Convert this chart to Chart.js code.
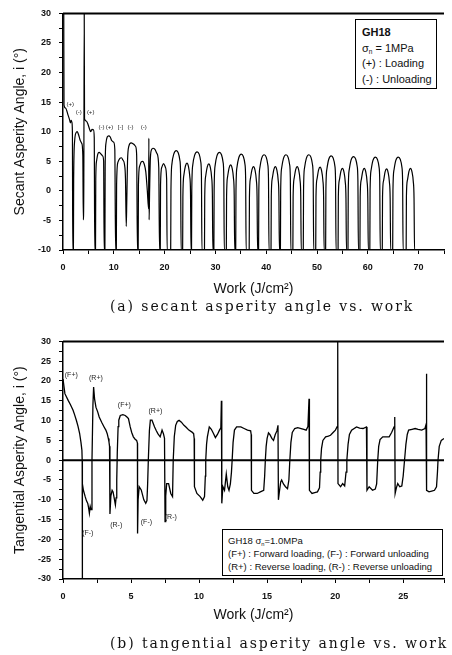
<!DOCTYPE html>
<html>
<head>
<meta charset="utf-8">
<script src="https://cdn.jsdelivr.net/npm/chart.js@4.4.1/dist/chart.umd.min.js"></script>
<style>
  html, body { margin: 0; padding: 0; background: #fff; }
  #page { position: relative; width: 452px; height: 655px; overflow: hidden; background: #fff; }
  .box { position: absolute; left: 0; width: 452px; height: 300px; }
  .cap { position: absolute; font: 14px "DejaVu Serif", serif; letter-spacing: 1.9px; color: #111; white-space: nowrap; }
  .key { position: absolute; border: 1px solid #000; background: #fff; color: #111;
         font-family: "Liberation Sans", Arial, sans-serif; white-space: nowrap; box-sizing: border-box; }
  .key sub { font-size: 60%; vertical-align: -2px; line-height: 0; }
</style>
</head>
<body>
<div id="page">
  <div class="box" style="top:0"><canvas id="secant"></canvas></div>
  <div class="cap" style="left:110px;top:298px">(a) secant asperity angle vs. work</div>
  <div class="key" style="left:355px;top:19px;width:82px;height:70px;padding:5px 0 0 6px;font-size:11px;line-height:15.5px">
    <b>GH18</b><br>σ<sub>n</sub> = 1MPa<br>(+) : Loading<br>(-) : Unloading
  </div>

  <div class="box" style="top:328px"><canvas id="tangential"></canvas></div>
  <div class="cap" style="left:110px;top:635px">(b) tangential asperity angle vs. work</div>
  <div class="key" style="left:222px;top:529px;width:221px;height:47px;padding:4px 0 0 5px;font-size:9.5px;line-height:13px">
    GH18 σ<sub>n</sub>=1.0MPa<br>(F+) : Forward loading, (F-) : Forward unloading<br>(R+) : Reverse loading, (R-) : Reverse unloading
  </div>
</div>

<script>
// secant asperity angle (deg) against work (J/cm2): [work, angle]
const secantCurve = [
  [0.15, 30], [0.2, 14.5], [0.5, 14.0], [1.0, 12.8], [1.3, 12.0], [1.45, 11.5], [1.6, 11.9], [1.75, 11.6], [1.85, 10], [1.92, -10],
  [2.05, -10], [2.1, 2], [2.3, 8.5], [2.55, 9.8], [2.8, 10.0], [3.1, 9.4], [3.4, 8.5], [3.7, 8.0], [3.9, 6], [4.0, -4.9],
  [4.1, 2], [4.18, 30], [4.24, 12.2], [4.6, 11.8], [4.9, 11.3], [5.2, 10.5], [5.45, 10.0], [5.7, 10.4], [6.0, 10.3], [6.15, 9], [6.25, -10],
  [6.4, -10], [6.45, 2], [6.6, 5.0], [6.85, 6.2], [7.1, 6.5], [7.5, 6.2], [7.8, 5.9], [8.0, 5], [8.1, -10],
  [8.25, -10], [8.3, 4], [8.45, 8.0], [8.7, 9.1], [9.0, 9.3], [9.3, 9.1], [9.6, 8.5], [10.0, 8.2], [10.2, 7], [10.35, -10],
  [10.5, -10], [10.55, 1], [10.8, 4.8], [11.2, 5.5], [11.5, 5.6], [11.8, 5.2], [12.1, 4.5], [12.3, 2], [12.45, -6.0],
  [12.55, -2], [12.7, 5], [12.95, 7.5], [13.4, 8.1], [13.9, 7.9], [14.3, 7.5], [14.5, 6], [14.65, -10],
  [14.8, -10], [14.85, 1], [15.1, 4.2], [15.4, 4.9], [15.7, 5.0], [16.0, 4.5], [16.3, 3.2], [16.6, 0], [16.85, -3], [16.9, 8.9], [16.95, -4.9],
  [17.05, 0], [17.2, 5.5], [17.45, 7.0], [17.7, 7.2], [18.1, 7.0], [18.5, 6.3], [18.85, 4], [19.0, -10],
  [19.15, -10], [19.2, 1], [19.45, 4.0], [19.8, 4.6], [20.15, 4.0], [20.4, 2], [20.5, -10],
  [21.2, -10], [21.25, 0], [21.45, 4.6], [21.8, 6.2], [22.3, 6.8], [22.7, 6.4], [23.0, 5.2], [23.15, 2.8], [23.25, -10],
  [23.55, -10], [23.6, -1], [23.8, 2.7], [24.1, 4.2], [24.4, 4.7], [24.7, 4.1], [24.95, 2.5], [25.1, -0.3], [25.2, -10],
  [25.3, -10], [25.35, 0], [25.55, 4.4], [25.9, 6.0], [26.4, 6.6], [26.8, 6.2], [27.1, 5.0], [27.25, 2.6], [27.35, -10],
  [27.85, -10], [27.9, -1], [28.1, 2.55], [28.4, 4.05], [28.7, 4.55], [29.0, 3.95], [29.25, 2.35], [29.4, -0.45], [29.5, -10],
  [29.7, -10], [29.75, 0], [29.95, 4.3], [30.3, 5.9], [30.8, 6.5], [31.2, 6.1], [31.5, 4.9], [31.65, 2.5], [31.75, -10],
  [32.15, -10], [32.2, -1], [32.4, 2.4], [32.7, 3.9], [33.0, 4.4], [33.3, 3.8], [33.55, 2.2], [33.7, -0.6], [33.8, -10],
  [34.0, -10], [34.05, 0], [34.25, 4.0], [34.6, 5.6], [35.1, 6.2], [35.5, 5.8], [35.8, 4.6], [35.95, 2.2], [36.05, -10],
  [36.65, -10], [36.7, -1], [36.9, 2.1], [37.2, 3.6], [37.5, 4.1], [37.8, 3.5], [38.05, 1.9], [38.2, -0.9], [38.3, -10],
  [38.5, -10], [38.55, 0], [38.75, 3.9], [39.1, 5.5], [39.6, 6.1], [40.0, 5.7], [40.3, 4.5], [40.45, 2.1], [40.55, -10],
  [40.95, -10], [41.0, -1], [41.2, 2.1], [41.5, 3.6], [41.8, 4.1], [42.1, 3.5], [42.35, 1.9], [42.5, -0.9], [42.6, -10],
  [42.8, -10], [42.85, 0], [43.05, 3.9], [43.4, 5.5], [43.9, 6.1], [44.3, 5.7], [44.6, 4.5], [44.75, 2.1], [44.85, -10],
  [45.25, -10], [45.3, -1], [45.5, 2.1], [45.8, 3.6], [46.1, 4.1], [46.4, 3.5], [46.65, 1.9], [46.8, -0.9], [46.9, -10],
  [47.3, -10], [47.35, 0], [47.55, 3.9], [47.9, 5.5], [48.4, 6.1], [48.8, 5.7], [49.1, 4.5], [49.25, 2.1], [49.35, -10],
  [49.75, -10], [49.8, -1], [50.0, 2.0], [50.3, 3.5], [50.6, 4.0], [50.9, 3.4], [51.15, 1.8], [51.3, -1.0], [51.4, -10],
  [51.7, -10], [51.75, 0], [51.95, 3.7], [52.3, 5.3], [52.8, 5.9], [53.2, 5.5], [53.5, 4.3], [53.65, 1.9], [53.75, -10],
  [54.15, -10], [54.2, -1], [54.4, 1.8], [54.7, 3.3], [55.0, 3.8], [55.3, 3.2], [55.55, 1.6], [55.7, -1.2], [55.8, -10],
  [56.1, -10], [56.15, 0], [56.35, 3.6], [56.7, 5.2], [57.2, 5.8], [57.6, 5.4], [57.9, 4.2], [58.05, 1.8], [58.15, -10],
  [58.45, -10], [58.5, -1], [58.7, 1.8], [59.0, 3.3], [59.3, 3.8], [59.6, 3.2], [59.85, 1.6], [60.0, -1.2], [60.1, -10],
  [60.4, -10], [60.45, 0], [60.65, 3.5], [61.0, 5.1], [61.5, 5.7], [61.9, 5.3], [62.2, 4.1], [62.35, 1.7], [62.45, -10],
  [62.85, -10], [62.9, -1], [63.1, 1.7], [63.4, 3.2], [63.7, 3.7], [64.0, 3.1], [64.25, 1.5], [64.4, -1.3], [64.5, -10],
  [64.9, -10], [64.95, 0], [65.15, 3.5], [65.5, 5.1], [66.0, 5.7], [66.4, 5.3], [66.7, 4.1], [66.85, 1.7], [66.95, -10],
  [67.55, -10], [67.6, -1], [67.8, 1.8], [68.1, 3.3], [68.4, 3.8], [68.7, 3.2], [68.95, 1.6], [69.1, -1.2], [69.2, -10],
  [75, -10]
];

// tangential asperity angle (deg) against work (J/cm2): [work, angle]
const tangentCurve = [
  [0.0, 20.5], [0.14, 16.8], [0.38, 15.1], [0.55, 14.0], [0.74, 12.6], [0.85, 11.5], [0.98, 10.1], [1.1, 8.6], [1.22, 6.8], [1.32, 4.5], [1.39, 2.5], [1.41, 0], [1.42, -30], [1.43, -6],
  [1.5, -7.6], [1.63, -9.2], [1.72, -10.2], [1.82, -10.9], [1.88, -12.0], [1.94, -13.4], [2.0, -11.7], [2.06, -12.5], [2.13, 0], [2.2, 14], [2.25, 18.5],
  [2.32, 15.5], [2.42, 13.4], [2.55, 12.2], [2.66, 10.9], [2.85, 9.5], [3.02, 8.4], [3.15, 7.6], [3.25, 6.7], [3.33, 5.5], [3.38, 4.6], [3.42, 3.5], [3.45, -13.6],
  [3.52, -9], [3.61, -7.6], [3.68, -8.0], [3.76, -9.5], [3.85, -11.3], [3.9, -9.5], [3.95, -5], [3.99, 2], [4.05, 8.5], [4.1, 10.1],
  [4.21, 11.3], [4.4, 11.5], [4.57, 11.3], [4.7, 10.9], [4.81, 10.5], [4.94, 8.4], [5.05, 7.0], [5.17, 5.9], [5.3, 5.3], [5.41, 5.0], [5.47, 4.3], [5.48, -18.5],
  [5.52, -10], [5.6, -6.7], [5.75, -7.5], [5.94, -10], [6.08, -10.9], [6.17, -10.2], [6.22, -6], [6.27, 0], [6.35, 7.5], [6.42, 10.1],
  [6.54, 10.1], [6.73, 8.4], [6.85, 7.5], [6.97, 6.7], [7.14, 5.9], [7.28, 7.6], [7.38, 6.7], [7.46, 5.5], [7.5, -15.5],
  [7.55, -9], [7.62, -5.9], [7.76, -5.9], [7.92, -8.4], [8.05, -9.2], [8.1, 0], [8.18, 6], [8.28, 8.8], [8.4, 9.8], [8.53, 10.1],
  [8.7, 9.6], [8.89, 8.8], [9.05, 8.3], [9.25, 7.6], [9.48, 7.1], [9.6, 6.7], [9.64, 5.5], [9.66, -6.7],
  [9.84, -8.4], [10.08, -9.2], [10.27, -10.1], [10.4, -9.2], [10.46, -4], [10.49, 0], [10.55, 4], [10.61, 5.9], [10.75, 8.4],
  [10.9, 7.8], [11.05, 6.8], [11.2, 5.7], [11.35, 6.5], [11.5, 7.6], [11.6, 8.2], [11.64, 15], [11.67, -10.9],
  [11.75, -6.7], [11.87, -7.6], [12.0, -3.5], [12.11, -6.7], [12.2, -7.6], [12.3, -6], [12.38, -3], [12.43, 0], [12.5, 4.5], [12.6, 7.6],
  [12.76, 8.4], [13.07, 8.4], [13.31, 8.0], [13.56, 7.6], [13.79, 7.4], [13.83, 6.5], [13.85, -7.6],
  [14.03, -8.4], [14.27, -8.4], [14.5, -8.0], [14.75, -7.6], [14.82, -4], [14.87, 0], [14.93, 3.5], [15.0, 5.5],
  [15.1, 6.9], [15.2, 6.5], [15.35, 5.5], [15.47, 5.0], [15.6, 6.5], [15.72, 7.4], [15.8, 8.8], [15.83, -10],
  [15.9, -8], [16.0, -5.5], [16.07, -5], [16.2, -6], [16.35, -6.7], [16.5, -7.2], [16.6, -5], [16.67, 0], [16.75, 4.5], [16.85, 7.0],
  [17.03, 8.0], [17.25, 8.2], [17.5, 8.0], [17.7, 7.8], [17.87, 7.6], [18.0, 8.5], [18.08, 15.5], [18.11, -7.6],
  [18.3, -8.4], [18.5, -8.2], [18.7, -8.0], [18.85, -7], [18.9, -3], [18.94, 0], [19.0, 3], [19.1, 5],
  [19.3, 5.9], [19.5, 6.1], [19.66, 6.3], [19.85, 7.0], [20.02, 7.6], [20.15, 8.5], [20.19, 30], [20.21, -5.9],
  [20.4, -6.7], [20.55, -5.9], [20.7, -6.5], [20.8, -3], [20.86, 0], [20.95, 4], [21.05, 6.5], [21.21, 7.6],
  [21.57, 8.4], [21.8, 8.1], [22.05, 8.0], [22.3, 8.4], [22.34, -7.6],
  [22.5, -6.7], [22.75, -7.6], [22.95, -7.3], [23.05, -6], [23.13, 0], [23.2, 3.5], [23.3, 5.2], [23.5, 5.9],
  [23.75, 5.9], [23.97, 5.9], [24.15, 7.0], [24.33, 8.4], [24.38, 10.9], [24.41, -8.4],
  [24.5, -7], [24.6, -5.9], [24.75, -6.7], [24.9, -6.5], [25.0, -4], [25.1, 0], [25.2, 4], [25.3, 6.5], [25.4, 7.6],
  [25.65, 7.8], [25.88, 8.0], [26.1, 7.8], [26.36, 7.6], [26.6, 8.0], [26.68, 9], [26.71, 21.8], [26.73, -7.6],
  [26.9, -8.0], [27.1, -7.8], [27.3, -7.6], [27.45, -6.7], [27.52, -3], [27.56, 0], [27.65, 3.5], [27.8, 5.0], [28.0, 5.5]
];
const tangentZero = [[0, 0], [28, 0]];

// loading / unloading marks written next to the curves
const secantMarkText = ['(+)', '(-)', '(+)', '(-)', '(+)', '[-]', '(-)', '(-)'];
const secantMarkX = [0.7, 2.5, 4.7, 7.0, 8.4, 10.8, 12.7, 15.3];
const secantMarkY = [14.7, 13.3, 13.3, 10.7, 10.7, 10.7, 10.7, 10.7];

const tangentMarkText = ['(F+)', '(R+)', '(F+)', '(R+)', '(F-)', '(R-)', '(F-)', '(R-)'];
const tangentMarkX = [0.61, 2.42, 4.51, 6.79, 1.82, 3.91, 6.13, 7.92];
const tangentMarkY = [21.4, 20.8, 14.0, 12.4, -18.5, -16.4, -15.5, -14.4];

const FONT = '"Liberation Sans", Arial, sans-serif';

const markLabels = {
  id: 'markLabels',
  afterDatasetsDraw(chart, args, opts) {
    const { ctx, scales: { x, y } } = chart;
    ctx.save();
    ctx.fillStyle = '#222';
    ctx.font = opts.size + 'px ' + FONT;
    ctx.textAlign = opts.align;
    ctx.textBaseline = 'middle';
    opts.text.forEach((t, i) => {
      ctx.fillText(t, x.getPixelForValue(opts.xs[i]), y.getPixelForValue(opts.ys[i]));
    });
    ctx.restore();
  }
};

// heavy frame line along the top of the plot
const topFrame = {
  id: 'topFrame',
  afterDraw(chart) {
    const { ctx, chartArea: a } = chart;
    ctx.save();
    ctx.strokeStyle = '#000';
    ctx.lineWidth = 2;
    ctx.beginPath();
    ctx.moveTo(a.left, a.top);
    ctx.lineTo(a.right, a.top);
    ctx.stroke();
    ctx.restore();
  }
};

function axisX(max, title, titlePad, height) {
  return {
    type: 'linear', min: 0, max: max,
    afterFit: s => { s.height = height; },
    ticks: {
      stepSize: max > 50 ? 5 : 2.5, autoSkip: false, maxRotation: 0, padding: 8,
      color: '#111', font: { family: FONT, size: 9, weight: 'bold' },
      callback: v => (v % (max > 50 ? 10 : 5) === 0 ? v : ''),
    },
    grid: { drawOnChartArea: false, drawTicks: true, tickLength: 4, color: '#000', lineWidth: 1 },
    border: { color: '#000', width: 1.5 },
    title: { display: true, text: title, color: '#111', font: { family: FONT, size: 14 }, padding: { top: 0, bottom: titlePad } },
  };
}

function axisY(min, max, title) {
  return {
    min: min, max: max,
    afterFit: s => { s.width = 63; },
    ticks: {
      stepSize: 2.5, autoSkip: false, padding: 8,
      color: '#111', font: { family: FONT, size: 9, weight: 'bold' },
      callback: v => (v % 5 === 0 ? v : ''),
    },
    grid: { drawOnChartArea: false, drawTicks: true, tickLength: 4, color: '#000', lineWidth: 1 },
    border: { color: '#000', width: 1.5 },
    title: { display: true, text: title, color: '#111', font: { family: FONT, size: 14 }, padding: { top: 11.6, bottom: 0 } },
  };
}

const common = {
  responsive: true, maintainAspectRatio: false, animation: false,
  layout: { padding: { top: 13, right: 0, bottom: 0, left: 0 } },
  events: [],
};

new Chart(document.getElementById('secant'), {
  type: 'line',
  data: {
    datasets: [
      { data: secantCurve.map(p => ({ x: p[0], y: p[1] })), borderColor: '#000', borderWidth: 1.2, pointRadius: 0, fill: false, cubicInterpolationMode: 'monotone' },
    ],
  },
  options: {
    ...common,
    plugins: {
      legend: { display: false }, tooltip: { enabled: false },
      markLabels: { text: secantMarkText, xs: secantMarkX, ys: secantMarkY, size: 6, align: 'left' },
    },
    scales: {
      x: axisX(75, 'Work (J/cm²)', 2.6, 50),
      y: axisY(-10, 30, 'Secant Asperity Angle, i (°)'),
    },
  },
  plugins: [markLabels, topFrame],
});

new Chart(document.getElementById('tangential'), {
  type: 'line',
  data: {
    datasets: [
      { data: tangentZero.map(p => ({ x: p[0], y: p[1] })), borderColor: '#000', borderWidth: 2, pointRadius: 0, fill: false },
      { data: tangentCurve.map(p => ({ x: p[0], y: p[1] })), borderColor: '#000', borderWidth: 1.3, pointRadius: 0, fill: false, tension: 0 },
    ],
  },
  options: {
    ...common,
    plugins: {
      legend: { display: false }, tooltip: { enabled: false },
      markLabels: { text: tangentMarkText, xs: tangentMarkX, ys: tangentMarkY, size: 7, align: 'center' },
    },
    scales: {
      x: axisX(28, 'Work (J/cm²)', 4.6, 49),
      y: axisY(-30, 30, 'Tangential Asperity Angle, i (°)'),
    },
  },
  plugins: [markLabels, topFrame],
});
</script>
</body>
</html>
